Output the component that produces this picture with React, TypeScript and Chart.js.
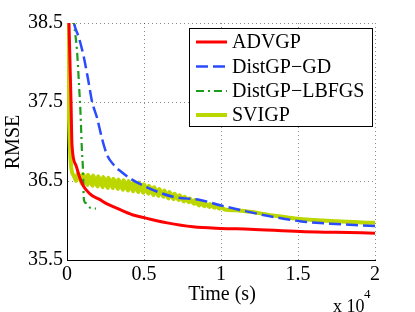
import React, { useEffect, useRef } from "react";
import { Chart, registerables } from "chart.js";

Chart.register(...registerables);

// ---- data (time in seconds, RMSE) ----
const advgpTime = [0, 130, 260, 325, 580, 780, 1000, 1230, 1600, 2080, 2600, 3180, 4290, 5130, 6500, 8180, 10000, 11880, 15130, 17500, 20000];
const advgpRmse = [40.0, 38.5, 37.51, 36.95, 36.7, 36.57, 36.46, 36.39, 36.32, 36.27, 36.21, 36.16, 36.07, 36.03, 35.97, 35.92, 35.9, 35.89, 35.86, 35.85, 35.84];

const gdTime = [300, 455, 780, 1100, 1430, 1620, 1950, 2270, 2600, 3050, 3500, 4200, 5190, 6880, 8640, 10000, 11560, 13000, 14160, 15130, 17080, 20000];
const gdRmse = [38.7, 38.5, 38.31, 38.06, 37.72, 37.51, 37.3, 37.04, 36.83, 36.7, 36.62, 36.52, 36.42, 36.3, 36.26, 36.19, 36.12, 36.06, 36.02, 35.99, 35.96, 35.93];

const lbfgsTime = [330, 455, 650, 780, 880, 970, 1040, 1070, 1100, 1230, 1430, 1880];
const lbfgsRmse = [38.8, 38.5, 38.15, 37.72, 37.35, 36.88, 36.63, 36.39, 36.26, 36.22, 36.17, 36.15];

const svigpTime = [
  0, 60, 130, 260, 455, 600,
  700, 1000, 1030, 1330, 1360, 1660, 1690, 1990, 2020, 2320, 2350, 2650,
  2680, 2980, 3010, 3310, 3340, 3640, 3670, 3970, 4000, 4300, 4330, 4630,
  4660, 4960, 4990, 5290, 5320, 5620, 5650, 5950, 5980, 6280, 6310, 6610,
  6640, 6940, 6970, 7270, 7300, 7600, 7630, 7930, 7960, 8260, 8290, 8590,
  8620, 8920, 8950, 9250, 9280, 9580, 9610, 9910, 9940, 10240,
  11000, 11880, 13500, 15130, 17500, 20000,
];
const svigpRmse = [
  39.5, 38.3, 37.3, 36.7, 36.56, 36.5,
  36.6, 36.46, 36.59, 36.45, 36.58, 36.44, 36.57, 36.43, 36.56, 36.42, 36.55, 36.41,
  36.54, 36.41, 36.53, 36.4, 36.52, 36.39, 36.51, 36.38, 36.5, 36.37, 36.49, 36.36,
  36.48, 36.35, 36.46, 36.34, 36.44, 36.32, 36.42, 36.31, 36.4, 36.3, 36.38, 36.28,
  36.36, 36.27, 36.34, 36.26, 36.32, 36.24, 36.3, 36.23, 36.28, 36.21, 36.26, 36.19,
  36.24, 36.18, 36.22, 36.17, 36.21, 36.16, 36.2, 36.15, 36.18, 36.14,
  36.13, 36.11, 36.06, 36.02, 35.99, 35.97,
];

const seriesNames = ["ADVGP", "DistGP\u2212GD", "DistGP\u2212LBFGS", "SVIGP"];
const xTicks = [0, 5000, 10000, 15000, 20000];
const yTicks = [35.5, 36.5, 37.5, 38.5];

const FONT = "'Liberation Serif', 'Times New Roman', serif";

const toPoints = (xs: number[], ys: number[]) => xs.map((x, i) => ({ x, y: ys[i] }));

const overlayPlugin = {
  id: "overlay",
  afterDraw(chart: any) {
    const ctx = chart.ctx as CanvasRenderingContext2D;
    ctx.save();
    // axis titles
    ctx.fillStyle = "#000";
    ctx.font = `20px ${FONT}`;
    ctx.textAlign = "center";
    ctx.textBaseline = "alphabetic";
    ctx.fillText("Time (s)", 222, 300);
    ctx.save();
    ctx.translate(14, 142);
    ctx.rotate(-Math.PI / 2);
    ctx.textBaseline = "middle";
    ctx.fillText("RMSE", 0, 0);
    ctx.restore();
    // exponent label
    ctx.textAlign = "left";
    ctx.font = `18px ${FONT}`;
    ctx.fillText("x 10", 333, 312);
    ctx.font = `13px ${FONT}`;
    ctx.fillText("4", 364, 298);

    // legend
    const bx = 189.5, by = 28.5, bw = 183, bh = 98;
    ctx.fillStyle = "#fff";
    ctx.fillRect(bx, by, bw, bh);
    ctx.strokeStyle = "#000";
    ctx.lineWidth = 1;
    ctx.setLineDash([]);
    ctx.strokeRect(bx, by, bw, bh);
    const rows = [42, 66.5, 91, 115];
    chart.data.datasets.forEach((ds: any, i: number) => {
      const y = rows[i];
      ctx.beginPath();
      ctx.strokeStyle = ds.borderColor;
      ctx.lineWidth = ds.borderWidth;
      ctx.setLineDash(ds.borderDash || []);
      ctx.moveTo(196, y);
      ctx.lineTo(227, y);
      ctx.stroke();
      ctx.setLineDash([]);
      ctx.fillStyle = "#000";
      ctx.font = `20px ${FONT}`;
      ctx.textAlign = "left";
      ctx.textBaseline = "middle";
      ctx.fillText(ds.label, 232, y + 1);
    });
    ctx.restore();
  },
};

export default function App() {
  const ref = useRef<HTMLCanvasElement | null>(null);

  useEffect(() => {
    if (!ref.current) return;
    const chart = new Chart(ref.current, {
      type: "line",
      data: {
        datasets: [
          {
            label: seriesNames[0],
            data: toPoints(advgpTime, advgpRmse),
            borderColor: "#ff0000",
            borderWidth: 3,
            order: 1,
          },
          {
            label: seriesNames[1],
            data: toPoints(gdTime, gdRmse),
            borderColor: "#2a4bff",
            borderWidth: 2.5,
            borderDash: [12, 5],
            order: 2,
          },
          {
            label: seriesNames[2],
            data: toPoints(lbfgsTime, lbfgsRmse),
            borderColor: "#1c9e1c",
            borderWidth: 2.2,
            borderDash: [8, 4, 2, 4],
            order: 3,
          },
          {
            label: seriesNames[3],
            data: toPoints(svigpTime, svigpRmse),
            borderColor: "#bcd600",
            borderWidth: 4,
            order: 4,
          },
        ] as any,
      },
      options: {
        animation: false,
        responsive: false,
        devicePixelRatio: 1,
        layout: { padding: { left: 0, top: 23, right: 40, bottom: 0 } },
        elements: {
          point: { radius: 0 },
          line: { cubicInterpolationMode: "monotone", fill: false },
        },
        datasets: { line: { clip: 0 } } as any,
        plugins: { legend: { display: false }, tooltip: { enabled: false } },
        scales: {
          x: {
            type: "linear",
            min: 0,
            max: 20000,
            afterFit: (s: any) => {
              s.height = 52;
            },
            afterBuildTicks: (s: any) => {
              s.ticks = xTicks.map((v) => ({ value: v }));
            },
            ticks: {
              color: "#000",
              font: { family: FONT, size: 20 },
              padding: 3,
              maxRotation: 0,
              autoSkip: false,
              callback: (v: any) => String(Number(v) / 10000),
            },
            grid: { color: "rgba(0,0,0,0.45)", drawTicks: false, lineWidth: 1 },
            border: { display: true, color: "#000", width: 1, dash: [1, 3] },
          },
          y: {
            type: "linear",
            min: 35.5,
            max: 38.5,
            afterFit: (s: any) => {
              s.width = 67;
            },
            afterBuildTicks: (s: any) => {
              s.ticks = yTicks.map((v) => ({ value: v }));
            },
            ticks: {
              color: "#000",
              font: { family: FONT, size: 20 },
              padding: 4,
              autoSkip: false,
              callback: (v: any) => Number(v).toFixed(1),
            },
            grid: { color: "rgba(0,0,0,0.45)", drawTicks: false, lineWidth: 1 },
            border: { display: true, color: "#000", width: 1, dash: [1, 3] },
          },
        },
      },
      plugins: [overlayPlugin],
    } as any);
    return () => chart.destroy();
  }, []);

  return (
    <div style={{ position: "absolute", left: 0, top: 0, width: 415, height: 312, background: "#fff" }}>
      <canvas ref={ref} width={415} height={312} style={{ display: "block" }} />
    </div>
  );
}
